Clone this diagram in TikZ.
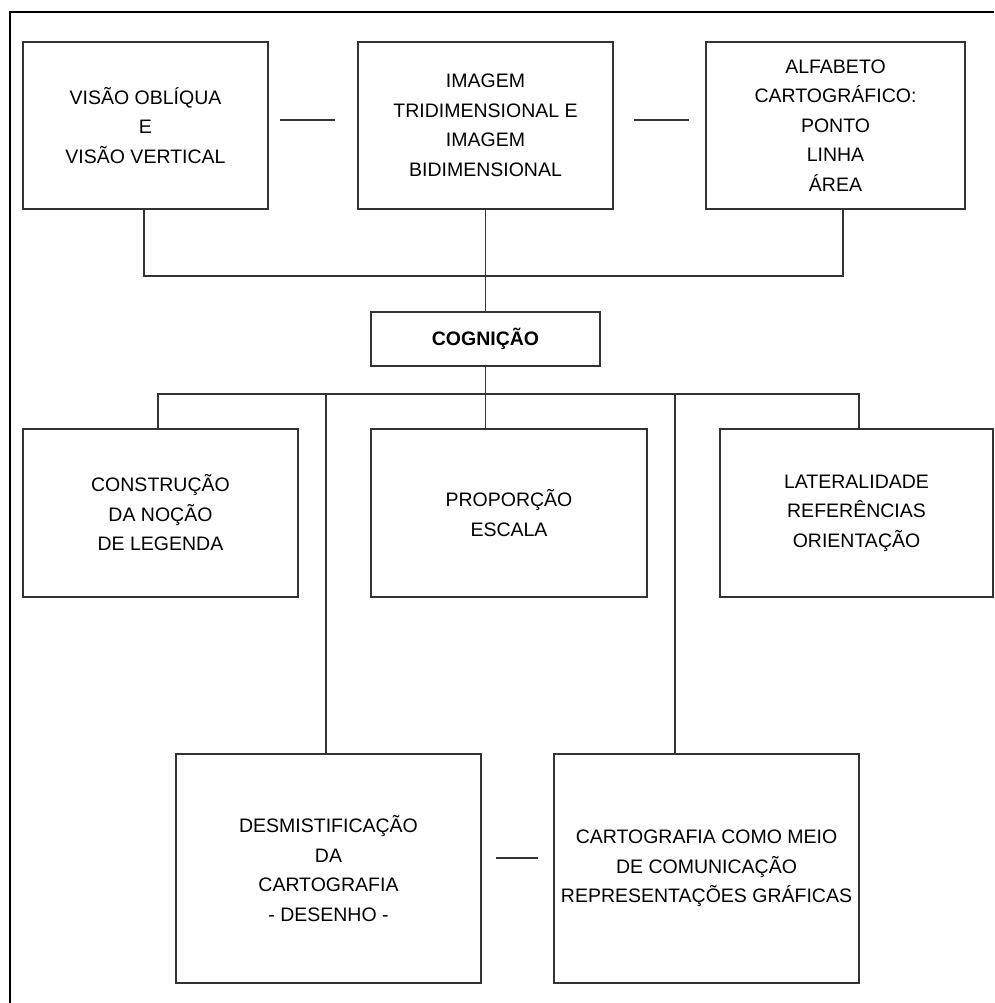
\documentclass[tikz,border=0pt]{standalone}
\usepackage{fontspec}
\setmainfont{Liberation Sans}
\usetikzlibrary{calc}
\begin{document}
\begin{tikzpicture}[x=1pt,y=-1pt,
  box/.style={draw=black!80, line width=1.3pt, inner sep=0pt, align=center,
    font=\fontsize{19.5}{29.5}\selectfont, text=black},
  link/.style={draw=black!80, line width=1.3pt},
  frame/.style={draw=black, line width=2pt}]
\useasboundingbox (0,0) rectangle (994,1003);
\draw[frame] (9.5,1003) -- (9.5,12) -- (994,12);
% top row
\node[box, minimum width=245, minimum height=167] (b1) at (145.5,125.5)
  {VISÃO OBLÍQUA\\E\\VISÃO VERTICAL};
\node[box, minimum width=255, minimum height=167] (b2) at (485.5,125.5)
  {IMAGEM\\TRIDIMENSIONAL E\\IMAGEM\\BIDIMENSIONAL};
\node[box, minimum width=259, minimum height=167] (b3) at (835.5,125.5)
  {ALFABETO\\CARTOGRÁFICO:\\PONTO\\LINHA\\ÁREA};
\draw[link, shorten <=11pt, shorten >=22pt] ([yshift=5.5pt]b1.east) -- ([yshift=5.5pt]b2.west);
\draw[link, shorten <=20pt, shorten >=16pt] ([yshift=5.5pt]b2.east) -- ([yshift=5.5pt]b3.west);
% cognicao
\node[box, minimum width=229, minimum height=54, font=\fontsize{19.5}{29.5}\selectfont\bfseries] (cog) at (485.5,339) {COGNIÇÃO};
\coordinate (j1) at (485.5,276);
\draw[link] ([xshift=-1.5pt]b1.south) |- (j1) -| ([xshift=7.5pt]b3.south);
\draw[link] (b2.south) -- (cog.north);
% second row
\node[box, minimum width=275, minimum height=168] (cons) at (160.5,513)
  {CONSTRUÇÃO\\DA NOÇÃO\\DE LEGENDA};
\node[box, minimum width=276, minimum height=168] (prop) at (509,513)
  {PROPORÇÃO\\ESCALA};
\node[box, minimum width=273, minimum height=168] (lat) at (856.5,513)
  {LATERALIDADE\\REFERÊNCIAS\\ORIENTAÇÃO};
\coordinate (j2) at (485.5,394);
\draw[link] (cog.south) -- (cog.south |- prop.north);
\draw[link] ([xshift=-2.5pt]cons.north) |- (j2) -| ([xshift=2.5pt]lat.north);
% third row
\node[box, minimum width=305, minimum height=229] (desm) at (328.5,868.5)
  {DESMISTIFICAÇÃO\\DA\\CARTOGRAFIA\\- DESENHO -};
\node[box, minimum width=305, minimum height=229] (cart) at (706.5,868.5)
  {CARTOGRAFIA COMO MEIO\\DE COMUNICAÇÃO\\REPRESENTAÇÕES GRÁFICAS};
\coordinate (d1) at (326,394);
\coordinate (d2) at (675,394);
\draw[link] (d1) -- (d1 |- desm.north);
\draw[link] (d2) -- (d2 |- cart.north);
\draw[link, shorten <=14pt, shorten >=15pt] ([yshift=10.5pt]desm.east) -- ([yshift=10.5pt]cart.west);
\end{tikzpicture}
\end{document}
